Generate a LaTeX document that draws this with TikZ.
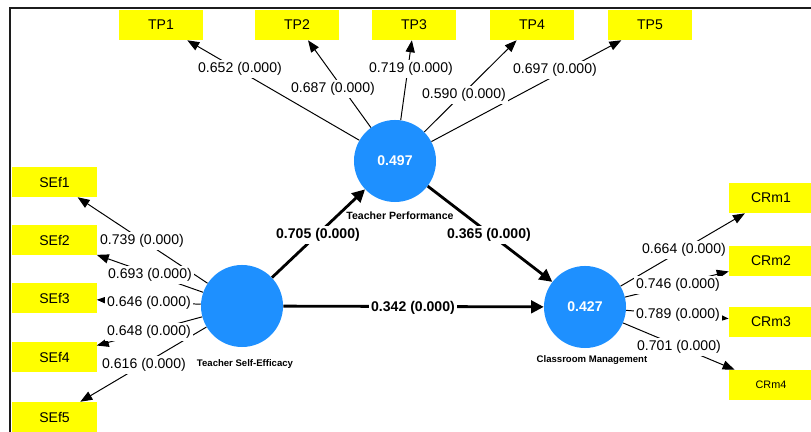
\documentclass[tikz,border=0pt]{standalone}
\usepackage{fontspec}
\setmainfont{Liberation Sans}
\usetikzlibrary{arrows.meta, positioning}
\definecolor{plsblue}{HTML}{1E90FF}
\definecolor{plsyellow}{HTML}{FFFF00}
\definecolor{framegray}{HTML}{1C1C1C}

\begin{document}
\begin{tikzpicture}[
    x=0.025cm, y=-0.025cm,
    ind/.style    = {fill=plsyellow, minimum width=2.1cm, minimum height=0.75cm,
                     inner sep=0pt, font=\fontsize{10}{12}\selectfont},
    lv/.style     = {circle, fill=plsblue, minimum size=2.05cm, inner sep=0pt,
                     text=white, font=\fontsize{10}{12}\selectfont\bfseries},
    lvname/.style = {font=\fontsize{6.8}{8}\selectfont\bfseries, inner sep=1pt},
    ldlbl/.style  = {fill=white, inner sep=1.5pt, font=\fontsize{10}{12}\selectfont},
    coef/.style   = {fill=white, inner sep=1.5pt, font=\fontsize{10}{12}\selectfont\bfseries},
    arr/.style    = {-{Triangle[length=8.5pt, width=6.5pt]}, line width=0.7pt},
    sarr/.style   = {-{Triangle[length=9pt, width=9pt]}, line width=2pt},
  ]

    \useasboundingbox (0,0) rectangle (811,432);
    \clip (0,0) rectangle (811,432);

    %% ── Frame ───────────────────────────────────────────────────────────────
    \draw[framegray, line width=1.4pt] (10,440) -- (10,8) -- (820,8);

    %% ── Latent variables ────────────────────────────────────────────────────
    \node[lv] (tp)  at (395, 161) {0.497};
    \node[lv] (tse) at (242, 306) {};
    \node[lv] (cm)  at (585, 307) {0.427};

    \node[lvname, font=\fontsize{7.5}{9}\selectfont\bfseries] (tpname) at (400, 216) {Teacher Performance};
    \node[lvname] (tsename) at (245, 364) {Teacher Self-Efficacy};
    \node[lvname] (cmname)  at (592, 360) {Classroom Management};

    %% ── Indicators ──────────────────────────────────────────────────────────
    \node[ind] (tp1) at (161, 25) {TP1};
    \node[ind] (tp2) at (297, 25) {TP2};
    \node[ind] (tp3) at (414, 25) {TP3};
    \node[ind] (tp4) at (532, 25) {TP4};
    \node[ind] (tp5) at (650, 25) {TP5};

    \node[ind] (sef1) at (54.5, 182) {SEf1};
    \node[ind] (sef2) at (54.5, 240) {SEf2};
    \node[ind] (sef3) at (54.5, 298) {SEf3};
    \node[ind] (sef4) at (54.5, 357) {SEf4};
    \node[ind] (sef5) at (54.5, 417) {SEf5};

    \node[ind] (crm1) at (771, 198) {CRm1};
    \node[ind] (crm2) at (771, 261) {CRm2};
    \node[ind] (crm3) at (771, 322) {CRm3};
    \node[ind, font=\fontsize{7.7}{9}\selectfont] (crm4) at (771, 385) {CRm4};

    %% Outer loadings
    \foreach \i in {1,...,5} {
      \draw[arr] (tp) -- (tp\i);
      \draw[arr] (tse) -- (sef\i);
    }
    \foreach \i in {1,...,4} {
      \draw[arr] (cm) -- (crm\i);
    }

    %% Structural paths
    \draw[sarr] (tse) -- (tp);
    \draw[sarr] (tp)  -- (cm);
    \draw[sarr] (tse) -- (cm);

    %% ── Labels ──────────────────────────────────────────────────────────────
    \node[ldlbl] at (240, 69) {0.652 (0.000)};
    \node[ldlbl] at (333, 89) {0.687 (0.000)};
    \node[ldlbl] at (411, 69) {0.719 (0.000)};
    \node[ldlbl] at (464, 95) {0.590 (0.000)};
    \node[ldlbl] at (555, 70) {0.697 (0.000)};

    \node[ldlbl] at (142, 241) {0.739 (0.000)};
    \node[ldlbl] at (150, 275) {0.693 (0.000)};
    \node[ldlbl] at (149, 303) {0.646 (0.000)};
    \node[ldlbl] at (149, 332) {0.648 (0.000)};
    \node[ldlbl] at (144, 365) {0.616 (0.000)};

    \node[ldlbl] at (684, 250) {0.664 (0.000)};
    \node[ldlbl] at (678, 285) {0.746 (0.000)};
    \node[ldlbl] at (678, 315) {0.789 (0.000)};
    \node[ldlbl] at (679, 347) {0.701 (0.000)};

    \node[coef] at (318, 235) {0.705 (0.000)};
    \node[coef] at (489, 235) {0.365 (0.000)};
    \node[coef] at (413, 308) {0.342 (0.000)};

  \end{tikzpicture}
\end{document}
